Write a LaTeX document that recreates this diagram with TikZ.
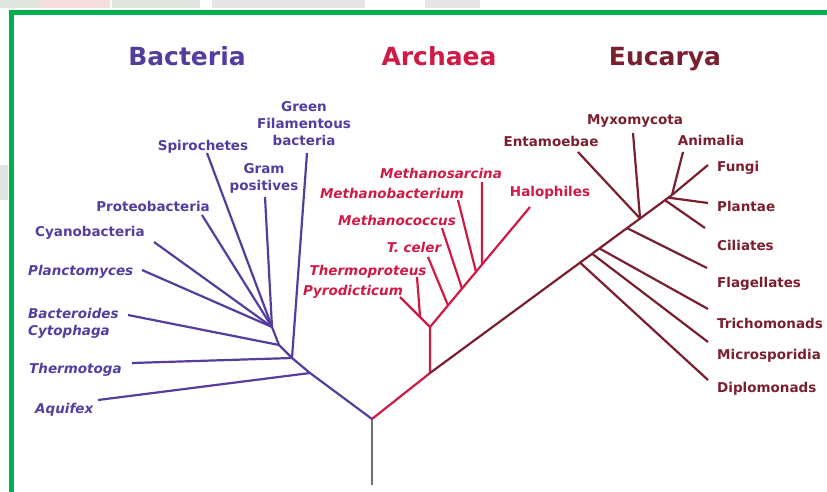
\documentclass[tikz,border=0pt]{standalone}
\usepackage{fontspec}
\setmainfont{DejaVu Sans}
\usetikzlibrary{calc}
\definecolor{frame}{HTML}{00B04F}
\definecolor{bact}{HTML}{553D9E}
\definecolor{arch}{HTML}{CF1A46}
\definecolor{euk}{HTML}{7A1F30}
\definecolor{trunk}{HTML}{6E6E6E}
\definecolor{resid}{HTML}{E1E6E1}
\definecolor{residpink}{HTML}{F4DEDE}

\begin{document}
\begin{tikzpicture}[x=1pt,y=-1pt,
  title/.style={font=\fontsize{25}{30}\selectfont\bfseries,inner sep=0pt,anchor=base},
  taxon/.style={font=\fontsize{13.5}{17}\selectfont\bfseries,inner sep=0pt},
  itaxon/.style={taxon,font=\fontsize{13.5}{17}\selectfont\bfseries\itshape},
  branch/.style={line width=2.2pt}]
  \useasboundingbox (0,0) rectangle (827,492);

  % Screenshot residue round the frame
  \fill[resid] (0,0) rectangle (40,8);
  \fill[residpink] (40,0) rectangle (110,8);
  \fill[resid] (112,0) rectangle (200,8);
  \fill[black!10] (212,0) rectangle (365,8);
  \fill[black!10] (425,0) rectangle (480,8);
  \fill[resid] (0,165) rectangle (8,200);

  % Frame
  \draw[frame,line width=5pt] (11.5,495) -- (11.5,12.5) -- (830,12.5);

  % Titles
  \node[title,bact] (tbact) at (187,66) {Bacteria};
  \node[title,arch] (tarch) at (439,66) {Archaea};
  \node[title,euk] (teuk) at (665,66) {Eucarya};

  % Root
  \coordinate (root) at (372,419);
  \coordinate (rootend) at (372,485);
  \draw[trunk,line width=2.8pt] (root) -- (rootend);

  % Bacteria
  \coordinate (b1) at (310,373);
  \coordinate (b2) at (292,358);
  \coordinate (b3) at (279,345);
  \coordinate (b4) at (272,327);
  \draw[bact,branch] (root) -- (b1) -- (b2) -- (b3) -- (b4);

  \node[taxon,bact,align=center] (green) at (304,124) {\fontsize{13.5}{18}\selectfont Green\\Filamentous\\bacteria};
  \node[taxon,bact] (spiro) at (203,147) {Spirochetes};
  \node[taxon,bact,align=center] (gram) at (264,178) {Gram\\positives};
  \node[taxon,bact] (proteo) at (153,206) {Proteobacteria};
  \node[taxon,bact,anchor=west] (cyano) at (35,233) {Cyanobacteria};
  \node[itaxon,bact,anchor=west] (plancto) at (28,272) {Planctomyces};
  \node[itaxon,bact,anchor=west,align=left] (bactero) at (28,323) {\fontsize{13.5}{20}\selectfont Bacteroides\\Cytophaga};
  \node[itaxon,bact,anchor=west] (thermotoga) at (29,370) {Thermotoga};
  \node[itaxon,bact,anchor=west] (aquifex) at (35,410) {Aquifex};

  \coordinate (greentip) at (307,153);
  \coordinate (spirotip) at (207,153);
  \coordinate (gramtip) at (265,197);
  \coordinate (proteotip) at (202,215);
  \coordinate (cyanotip) at (154,242);
  \coordinate (planctotip) at (142,270);
  \coordinate (banctertip) at (128,315);
  \coordinate (thermotogatip) at (132,363);
  \coordinate (aquifextip) at (98,400);

  \draw[bact,branch] (greentip) -- (b2);
  \draw[bact,branch] (spirotip) -- (b4);
  \draw[bact,branch] (gramtip) -- (b4);
  \draw[bact,branch] (proteotip) -- (b4);
  \draw[bact,branch] (cyanotip) -- (b4);
  \draw[bact,branch] (planctotip) -- (b4);
  \draw[bact,branch] (banctertip) -- (b3);
  \draw[bact,branch] (thermotogatip) -- (b2);
  \draw[bact,branch] (aquifextip) -- (b1);

  % Archaea
  \coordinate (a0) at (430,373);
  \coordinate (a1) at (430,327);
  \draw[arch,branch] (root) -- (a0) -- (a1);

  \node[itaxon,arch] (msarcina) at (441,173) {Methanosarcina};
  \node[itaxon,arch] (mbact) at (392,193) {Methanobacterium};
  \node[itaxon,arch] (mcoccus) at (397,220) {Methanococcus};
  \node[itaxon,arch] (tceler) at (414,247) {T. celer};
  \node[itaxon,arch] (tproteus) at (368,272) {Thermoproteus};
  \node[itaxon,arch] (pyro) at (353,292) {Pyrodicticum};
  \node[taxon,arch] (halo) at (550,193) {Halophiles};

  \coordinate (halotip) at (530,207);
  \coordinate (pyrotip) at (400,297);
  \coordinate (tproteustip) at (417,277);
  \coordinate (tcelertip) at (428,257);
  \coordinate (mcoccustip) at (442,228);
  \coordinate (mbacttip) at (458,200);
  \coordinate (msarcinatip) at (482,182);

  \draw[arch,branch] (a1) -- (halotip);
  \draw[arch,branch] (a1) -- (pyrotip);
  \draw[arch,branch] (tproteustip) -- ($(a1)!0.33!(pyrotip)$);
  \draw[arch,branch] (tcelertip) -- ($(a1)!0.18!(halotip)$);
  \draw[arch,branch] (mcoccustip) -- ($(a1)!0.32!(halotip)$);
  \draw[arch,branch] (mbacttip) -- ($(a1)!0.46!(halotip)$);
  \draw[arch,branch] (msarcinatip) -- ($(a1)!0.52!(halotip)$);

  % Eucarya
  \coordinate (etop) at (672,195);
  \draw[euk,branch] (a0) -- (etop);

  \node[taxon,euk] (myxo) at (635,121) {Myxomycota};
  \node[taxon,euk] (entam) at (551,141) {Entamoebae};
  \node[taxon,euk] (anim) at (711,140) {Animalia};
  \node[taxon,euk,anchor=west] (fungi) at (717,168) {Fungi};
  \node[taxon,euk,anchor=west] (plant) at (717,206) {Plantae};
  \node[taxon,euk,anchor=west] (cil) at (717,245) {Ciliates};
  \node[taxon,euk,anchor=west] (flag) at (717,284) {Flagellates};
  \node[taxon,euk,anchor=west] (trich) at (717,323) {Trichomonads};
  \node[taxon,euk,anchor=west] (micro) at (717,356) {Microsporidia};
  \node[taxon,euk,anchor=west] (diplo) at (717,389) {Diplomonads};

  \coordinate (myxotip) at (633,133);
  \coordinate (entamtip) at (578,152);
  \coordinate (animtip) at (683,152);
  \coordinate (fungitip) at (708,165);
  \coordinate (planttip) at (708,203);
  \coordinate (ciltip) at (705,228);
  \coordinate (flagtip) at (707,268);
  \coordinate (trichtip) at (708,309);
  \coordinate (microtip) at (708,342);
  \coordinate (diplotip) at (708,380);

  \draw[euk,branch] (entamtip) -- ($(a0)!0.868!(etop)$);
  \draw[euk,branch] (myxotip) -- ($(a0)!0.868!(etop)$);
  \draw[euk,branch] (animtip) -- (etop);
  \draw[euk,branch] (fungitip) -- (etop);
  \draw[euk,branch] (planttip) -- ($(a0)!0.985!(etop)$);
  \draw[euk,branch] (ciltip) -- ($(a0)!0.971!(etop)$);
  \draw[euk,branch] (flagtip) -- ($(a0)!0.814!(etop)$);
  \draw[euk,branch] (trichtip) -- ($(a0)!0.70!(etop)$);
  \draw[euk,branch] (microtip) -- ($(a0)!0.67!(etop)$);
  \draw[euk,branch] (diplotip) -- ($(a0)!0.62!(etop)$);
\end{tikzpicture}
\end{document}
